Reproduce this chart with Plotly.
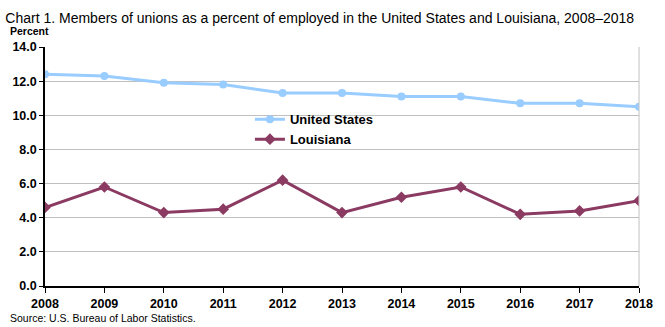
import plotly.graph_objects as go

years = [2008, 2009, 2010, 2011, 2012, 2013, 2014, 2015, 2016, 2017, 2018]
us = [12.4, 12.3, 11.9, 11.8, 11.3, 11.3, 11.1, 11.1, 10.7, 10.7, 10.5]
la = [4.6, 5.8, 4.3, 4.5, 6.2, 4.3, 5.2, 5.8, 4.2, 4.4, 5.0]
yticks = [0, 2, 4, 6, 8, 10, 12, 14]

FONT = "Liberation Sans Narrow, Arial Narrow, Liberation Sans, sans-serif"

fig = go.Figure()
fig.add_trace(go.Scatter(x=years, y=us, name="United States", mode="lines+markers",
                         line=dict(color="#99ccff", width=3),
                         marker=dict(symbol="circle", size=8, color="#99ccff")))
fig.add_trace(go.Scatter(x=years, y=la, name="Louisiana", mode="lines+markers",
                         line=dict(color="#8b3a62", width=3),
                         marker=dict(symbol="diamond", size=9, color="#8b3a62")))

fig.update_layout(
    width=665, height=327,
    margin=dict(l=45, r=20, t=47, b=41),
    paper_bgcolor="white", plot_bgcolor="white",
    font=dict(family=FONT, color="#000000"),
    title=dict(text="Chart 1. Members of unions as a percent of employed in the United States and Louisiana, 2008\u20132018",
               x=0.008, xanchor="left", y=0.945, yanchor="middle",
               font=dict(size=14, family=FONT)),
    showlegend=True,
    legend=dict(x=0.345, y=0.76, xanchor="left", yanchor="top",
                bgcolor="rgba(0,0,0,0)", font=dict(size=13, family=FONT, weight="bold"),
                itemwidth=30, tracegroupgap=0),
    xaxis=dict(range=[2008, 2018], tickvals=years, ticktext=[str(y) for y in years],
               showgrid=False, showline=True, linecolor="black", linewidth=1.5,
               ticks="outside", ticklen=5, tickcolor="black",
               tickfont=dict(size=12.5, family=FONT, weight="bold"), mirror=False, zeroline=False),
    yaxis=dict(range=[0, 14], tickvals=yticks, ticktext=[f"{v:.1f}" for v in yticks],
               showgrid=True, gridcolor="#c0c0c0", gridwidth=1,
               showline=True, linecolor="black", linewidth=1.5,
               ticks="outside", ticklen=4, tickcolor="black",
               tickfont=dict(size=12.5, family=FONT, weight="bold"), zeroline=False),
    annotations=[
        dict(text="Percent", xref="paper", yref="paper", x=-0.062, y=1.035,
             xanchor="left", yanchor="bottom", showarrow=False,
             font=dict(size=10.5, family=FONT, weight="bold")),
        dict(text="Source: U.S. Bureau of Labor Statistics.", xref="paper", yref="paper",
             x=-0.062, y=-0.1, xanchor="left", yanchor="top", showarrow=False,
             font=dict(size=10.5, family=FONT)),
    ],
)
# right gray border
fig.add_shape(type="line", xref="paper", yref="paper", x0=1, x1=1, y0=0, y1=1,
              line=dict(color="#c0c0c0", width=1))

fig.write_html("out.html")
